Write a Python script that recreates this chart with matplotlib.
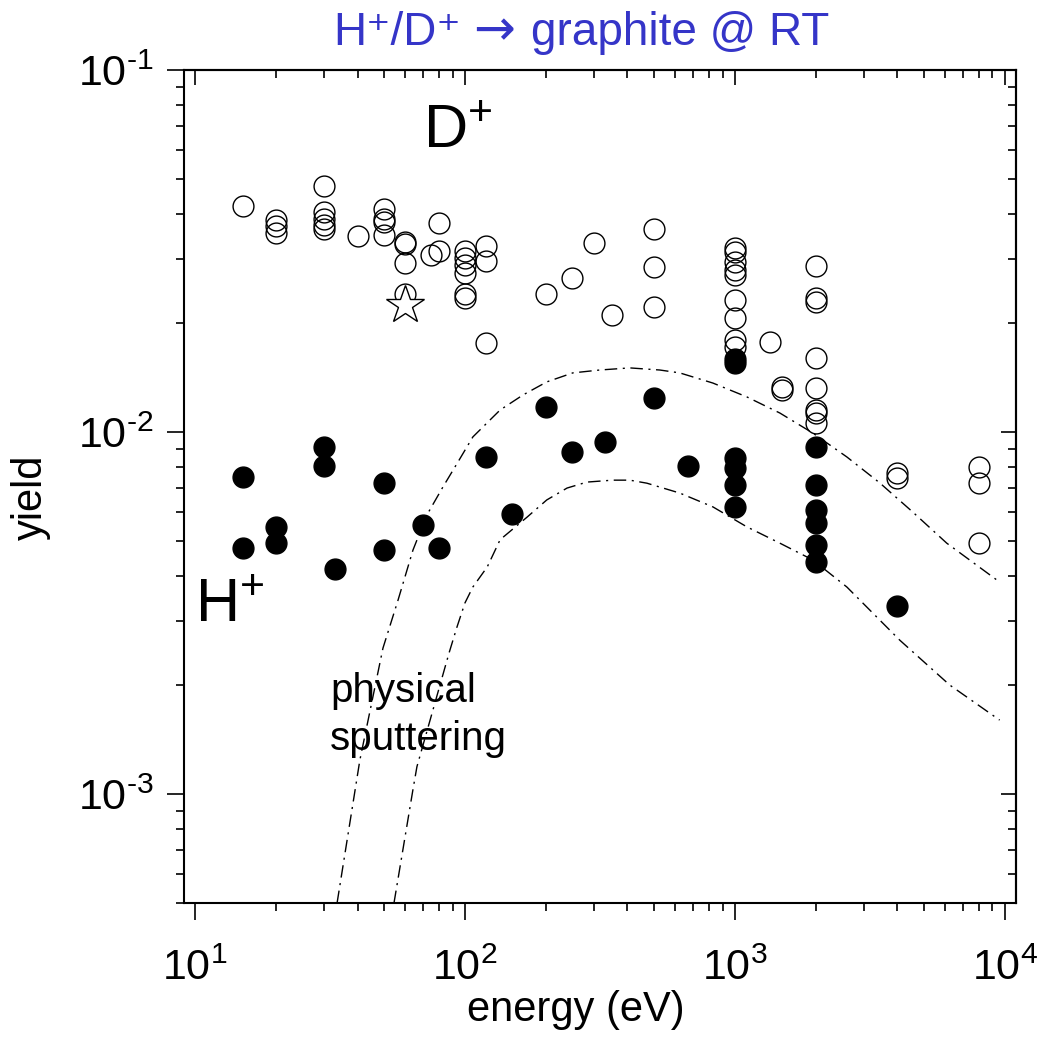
import numpy as np
import matplotlib
matplotlib.use("Agg")
import matplotlib.pyplot as plt
from matplotlib.ticker import LogLocator, NullFormatter, FuncFormatter

plt.rcParams['font.family'] = ['Liberation Sans', 'DejaVu Sans']
plt.rcParams['mathtext.fontset'] = 'custom'
plt.rcParams['mathtext.rm'] = 'Liberation Sans'
plt.rcParams['mathtext.it'] = 'Liberation Sans:italic'
plt.rcParams['mathtext.bf'] = 'Liberation Sans:bold'

# D+ yields (open circles)
d_energy = [15,
            20, 20, 20,
            30, 30, 30, 30, 30,
            40,
            50, 50, 50, 50,
            60, 60, 60, 60,
            75, 80, 80,
            100, 100, 100, 100, 100, 100,
            120, 120, 120,
            200, 250, 300, 350,
            500, 500, 500,
            1000, 1000, 1000, 1000, 1000, 1000, 1000, 1000, 1000,
            1350, 1500, 1500,
            2000, 2000, 2000, 2000, 2000, 2000, 2000, 2000,
            4000, 4000,
            8000, 8000, 8000]
d_yield = [0.042,
           0.0385, 0.037, 0.0355,
           0.0478, 0.0405, 0.0387, 0.0373, 0.0363,
           0.0348,
           0.0412, 0.0387, 0.038, 0.035,
           0.0334, 0.0331, 0.0292, 0.0241,
           0.0308, 0.0316, 0.0378,
           0.0316, 0.0302, 0.029, 0.0274, 0.0241, 0.0234,
           0.0326, 0.0296, 0.0176,
           0.024, 0.0266, 0.0332, 0.0211,
           0.0363, 0.0285, 0.0221,
           0.0322, 0.0314, 0.0294, 0.028, 0.0271, 0.0231, 0.0206, 0.0179, 0.0172,
           0.0177, 0.0133, 0.0131,
           0.0287, 0.0234, 0.0228, 0.016, 0.0132, 0.0115, 0.0113, 0.0106,
           0.0077, 0.00744,
           0.00798, 0.00725, 0.00492]

# H+ yields (filled circles)
h_energy = [15, 15, 20, 20, 30, 30, 33, 50, 50, 70, 80, 120, 150,
            200, 250, 330, 500, 670,
            1000, 1000, 1000, 1000, 1000, 1000,
            2000, 2000, 2000, 2000, 2000, 2000,
            4000]
h_yield = [0.00753, 0.00477, 0.00548, 0.00492, 0.00906, 0.00803, 0.00419,
           0.00725, 0.00473, 0.00555, 0.00479, 0.00855, 0.00592,
           0.0117, 0.00883, 0.0094, 0.0124, 0.00803,
           0.0159, 0.0155, 0.00848, 0.00796, 0.00714, 0.00621,
           0.0091, 0.00714, 0.0061, 0.00561, 0.00488, 0.00438,
           0.0033]

star_energy = [60]
star_yield = [0.0224]

# physical sputtering curves (dash-dot)
phys_d_energy = [33.6, 38.8, 40.8, 49.7, 56.5, 64.2, 72.3, 82.9, 94.2, 107,
                 135, 164, 201, 251, 316, 408, 527, 625, 829, 1107, 1468,
                 1945, 2600, 3444, 4560, 6095, 9570]
phys_d_yield = [5.0e-4, 9.8e-4, 1.24e-3, 2.53e-3, 3.43e-3, 4.72e-3, 5.90e-3,
                7.05e-3, 8.26e-3, 9.69e-3, 0.0115, 0.01265, 0.01375, 0.01456,
                0.01483, 0.01503, 0.01483, 0.01456, 0.01365, 0.0125, 0.01128,
                0.00993, 0.00853, 0.00723, 0.00601, 0.00493, 0.00385]

phys_h_energy = [54.6, 64.2, 66.4, 87.3, 93.4, 100, 107, 121, 135, 149, 170,
                 201, 239, 283, 353, 408, 472, 625, 829, 1107, 1468, 1945,
                 2600, 3244, 4083, 6250, 9570]
phys_h_yield = [5.0e-4, 1.03e-3, 1.19e-3, 2.45e-3, 2.89e-3, 3.37e-3, 3.73e-3,
                4.24e-3, 5.04e-3, 5.36e-3, 5.82e-3, 6.49e-3, 7.0e-3, 7.27e-3,
                7.36e-3, 7.36e-3, 7.22e-3, 6.78e-3, 6.21e-3, 5.47e-3, 4.93e-3,
                4.43e-3, 3.73e-3, 3.16e-3, 2.66e-3, 2.0e-3, 1.6e-3]

title_parts = ['H⁺/D⁺', '→', 'graphite @ RT']


def log_label(v, pos):
    n = int(round(np.log10(v)))
    if n < 0:
        return r'$10^{\text{-}%d}$' % (-n)
    return r'$10^{%d}$' % n


fig = plt.figure(figsize=(10.37, 10.44), dpi=100)
ax = fig.add_axes([0.1774, 0.1351, 0.8023, 0.7979])

dashdot = (0, (9, 4, 1.5, 4))
ax.plot(phys_d_energy, phys_d_yield, color='black', lw=1.0,
        linestyle=dashdot, zorder=2)
ax.plot(phys_h_energy, phys_h_yield, color='black', lw=1.0,
        linestyle=dashdot, zorder=2)

ax.plot(d_energy, d_yield, 'o', mfc='none', mec='black', ms=15, mew=1.0,
        zorder=3)
ax.plot(h_energy, h_yield, 'o', mfc='black', mec='black', ms=15, mew=1.0,
        zorder=4)
ax.plot(star_energy, star_yield, '*', mfc='white', mec='black', ms=29,
        mew=1.0, zorder=5)

ax.set_xscale('log')
ax.set_yscale('log')
ax.set_xlim(9.1, 11000)
ax.set_ylim(5e-4, 0.1)

for a in (ax.xaxis, ax.yaxis):
    a.set_major_locator(LogLocator(base=10))
    a.set_minor_locator(LogLocator(base=10, subs=np.arange(2, 10)))
    a.set_major_formatter(FuncFormatter(log_label))
    a.set_minor_formatter(NullFormatter())

ax.tick_params(which='major', direction='out', length=12, width=1.2,
               labelsize=31, pad=10)
ax.tick_params(which='minor', direction='out', length=6, width=1.2)
ax.tick_params(axis='x', which='major', pad=21)
for s in ax.spines.values():
    s.set_linewidth(1.5)

# mirrored axes with inward ticks
top = ax.secondary_xaxis('top')
top.xaxis.set_minor_locator(LogLocator(base=10, subs=np.arange(2, 10)))
top.tick_params(which='major', direction='in', length=11, width=1.2,
                labeltop=False)
top.tick_params(which='minor', direction='in', length=6, width=1.2)
top.spines['top'].set_linewidth(1.5)
right = ax.secondary_yaxis('right')
right.yaxis.set_minor_locator(LogLocator(base=10, subs=np.arange(2, 10)))
right.tick_params(which='major', direction='in', length=11, width=1.2,
                  labelright=False)
right.tick_params(which='minor', direction='in', length=6, width=1.2)
right.spines['right'].set_linewidth(1.5)

ax.text(70, 0.0609, 'D$^{+}$', fontsize=44, ha='left', va='baseline')
ax.text(10, 0.00299, 'H$^{+}$', fontsize=44, ha='left', va='baseline')
ax.text(31.6, 1.80e-3, 'physical', fontsize=29, ha='left', va='baseline')
ax.text(31.6, 1.32e-3, 'sputtering', fontsize=29, ha='left', va='baseline')

# title in pieces: the arrow is taken from DejaVu Sans, slightly larger
renderer = fig.canvas.get_renderer()
title_y = 1 - 45 / 1044
pieces = [
    fig.text(0, title_y, title_parts[0], fontsize=33, color='#3535C8',
             ha='left', va='baseline'),
    fig.text(0, title_y, title_parts[1], fontsize=36, color='#3535C8',
             family='DejaVu Sans', ha='left', va='baseline'),
    fig.text(0, title_y, title_parts[2], fontsize=33, color='#3535C8',
             ha='left', va='baseline'),
]
gaps = [12, 16, 0]
widths = [t.get_window_extent(renderer).width for t in pieces]
x_px = 581 - (sum(widths) + sum(gaps)) / 2
for t, w, g in zip(pieces, widths, gaps):
    t.set_x(x_px / 1037)
    x_px += w + g

fig.text(31 / 1037, 1 - 497 / 1044, 'yield', fontsize=30, rotation=90,
         ha='center', va='center')
fig.text(576 / 1037, 1 - 1010 / 1044, 'energy (eV)', fontsize=30,
         ha='center', va='center')

fig.savefig('out.png', dpi=100)
